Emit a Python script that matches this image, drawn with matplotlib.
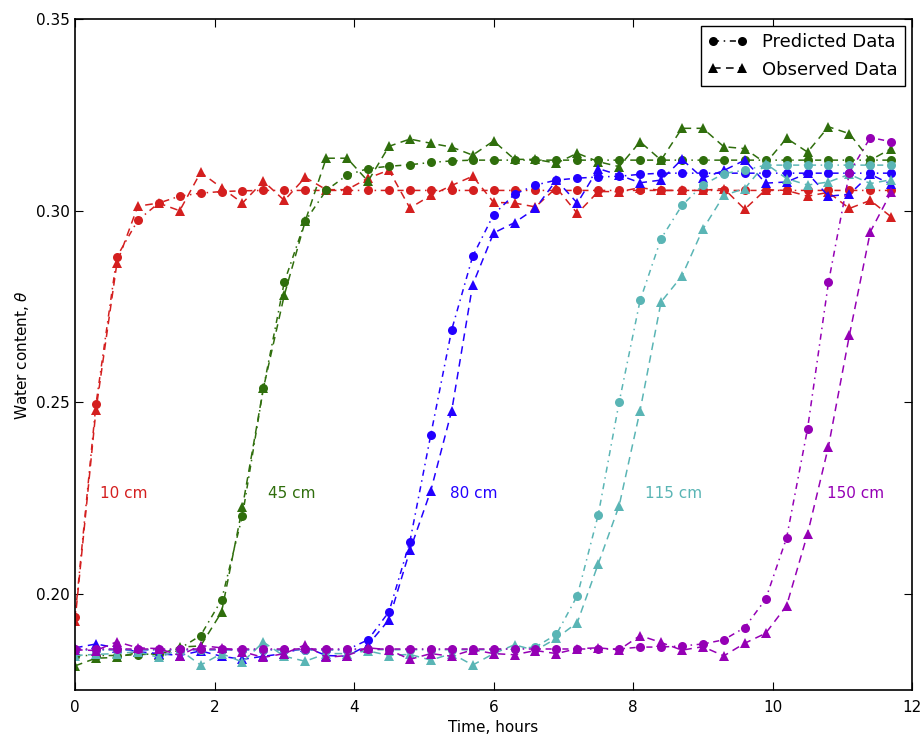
import matplotlib
matplotlib.use("Agg")
import matplotlib.pyplot as plt
from matplotlib.lines import Line2D

time_h = [0.0, 0.3, 0.6, 0.9, 1.2, 1.5, 1.8, 2.1, 2.4, 2.7,
          3.0, 3.3, 3.6, 3.9, 4.2, 4.5, 4.8, 5.1, 5.4, 5.7,
          6.0, 6.3, 6.6, 6.9, 7.2, 7.5, 7.8, 8.1, 8.4, 8.7,
          9.0, 9.3, 9.6, 9.9, 10.2, 10.5, 10.8, 11.1, 11.4, 11.7]

depth_labels = ["10 cm", "45 cm", "80 cm", "115 cm", "150 cm"]
label_x = [0.36, 2.77, 5.38, 8.17, 10.78]
label_y = [0.2262, 0.2262, 0.2262, 0.2262, 0.2262]
colors = ["#d41f1f", "#2f6e0c", "#2200ff", "#5ab5b5", "#9500b5"]

pred_10 = [0.194, 0.2495, 0.288, 0.2975, 0.302, 0.3038, 0.3046, 0.305, 0.3052, 0.3053,
           0.3053, 0.3053, 0.3053, 0.3053, 0.3053, 0.3053, 0.3053, 0.3053, 0.3053, 0.3053,
           0.3053, 0.3053, 0.3053, 0.3053, 0.3053, 0.3053, 0.3053, 0.3053, 0.3053, 0.3053,
           0.3053, 0.3053, 0.3053, 0.3053, 0.3053, 0.3053, 0.3053, 0.3053, 0.3053, 0.3053]
obs_10 = [0.193, 0.248, 0.2863, 0.3012, 0.302, 0.300, 0.310, 0.306, 0.302, 0.3077,
          0.3027, 0.3087, 0.3055, 0.3055, 0.3085, 0.3106, 0.3007, 0.304, 0.3066, 0.309,
          0.3022, 0.302, 0.301, 0.306, 0.2993, 0.305, 0.305, 0.306, 0.3053, 0.3053,
          0.3053, 0.3058, 0.3004, 0.3055, 0.3053, 0.3038, 0.3048, 0.3006, 0.3027, 0.2984]

pred_45 = [0.184, 0.184, 0.184, 0.1842, 0.1845, 0.1858, 0.1892, 0.1985, 0.2205, 0.2537,
           0.2814, 0.2973, 0.3053, 0.3093, 0.311, 0.3116, 0.312, 0.3126, 0.313, 0.3132,
           0.3132, 0.3132, 0.3132, 0.3132, 0.3132, 0.3132, 0.3132, 0.3132, 0.3132, 0.3132,
           0.3132, 0.3132, 0.3132, 0.3132, 0.3132, 0.3132, 0.3132, 0.3132, 0.3132, 0.3132]
obs_45 = [0.1813, 0.1833, 0.1835, 0.1848, 0.1842, 0.1862, 0.1865, 0.1953, 0.2227, 0.2537,
          0.278, 0.2973, 0.3137, 0.3137, 0.3077, 0.3168, 0.3187, 0.3176, 0.3166, 0.3145,
          0.3182, 0.3134, 0.3134, 0.3124, 0.315, 0.3128, 0.3115, 0.318, 0.3132, 0.3215,
          0.3215, 0.3167, 0.3162, 0.3124, 0.3189, 0.3153, 0.3219, 0.3201, 0.3132, 0.3162]

pred_80 = [0.1855, 0.1855, 0.1855, 0.1855, 0.1855, 0.1855, 0.1855, 0.1855, 0.1855, 0.1855,
           0.1855, 0.1855, 0.1855, 0.1855, 0.1881, 0.1954, 0.2137, 0.2416, 0.269, 0.2881,
           0.299, 0.3043, 0.3067, 0.308, 0.3085, 0.3088, 0.309, 0.3095, 0.3098, 0.3098,
           0.3098, 0.3098, 0.3098, 0.3098, 0.3098, 0.3098, 0.3098, 0.3098, 0.3098, 0.3098]
obs_80 = [0.186, 0.187, 0.186, 0.185, 0.1845, 0.184, 0.1852, 0.1838, 0.183, 0.1838,
          0.1845, 0.1862, 0.184, 0.1838, 0.1868, 0.1933, 0.2114, 0.227, 0.2479, 0.2807,
          0.2942, 0.2969, 0.3006, 0.308, 0.302, 0.311, 0.3093, 0.3073, 0.308, 0.3134,
          0.3085, 0.3105, 0.3132, 0.3072, 0.3075, 0.3098, 0.3038, 0.3043, 0.3095, 0.3069]

pred_115 = [0.1855, 0.1855, 0.1855, 0.1855, 0.1855, 0.1855, 0.1855, 0.1855, 0.1855, 0.1855,
            0.1855, 0.1855, 0.1855, 0.1855, 0.1855, 0.1855, 0.1855, 0.1855, 0.1855, 0.1855,
            0.1855, 0.1858, 0.1862, 0.1895, 0.1996, 0.2207, 0.2501, 0.2766, 0.2927, 0.3014,
            0.3067, 0.3097, 0.3106, 0.3119, 0.3119, 0.3119, 0.3119, 0.3119, 0.3119, 0.3119]
obs_115 = [0.184, 0.1843, 0.1845, 0.185, 0.1835, 0.1855, 0.1815, 0.1845, 0.1823, 0.1875,
           0.1838, 0.1825, 0.1845, 0.1845, 0.1852, 0.184, 0.1843, 0.1828, 0.1845, 0.1815,
           0.1845, 0.1868, 0.1853, 0.1885, 0.1926, 0.2079, 0.2231, 0.2479, 0.2762, 0.283,
           0.2952, 0.304, 0.3058, 0.3123, 0.3084, 0.3067, 0.3075, 0.3095, 0.3071, 0.3081]

pred_150 = [0.1857, 0.1857, 0.1857, 0.1857, 0.1857, 0.1857, 0.1857, 0.1857, 0.1857, 0.1857,
            0.1857, 0.1857, 0.1857, 0.1857, 0.1857, 0.1857, 0.1857, 0.1857, 0.1857, 0.1857,
            0.1857, 0.1857, 0.1857, 0.1857, 0.1857, 0.1857, 0.1857, 0.1862, 0.1862, 0.1865,
            0.187, 0.1881, 0.1913, 0.1987, 0.2147, 0.2431, 0.2813, 0.3099, 0.3191, 0.318]
obs_150 = [0.1855, 0.1853, 0.1876, 0.186, 0.1858, 0.184, 0.1866, 0.186, 0.185, 0.1835,
           0.1845, 0.1868, 0.1835, 0.184, 0.186, 0.1855, 0.183, 0.1845, 0.1838, 0.1855,
           0.1845, 0.1842, 0.1853, 0.1845, 0.1858, 0.186, 0.1855, 0.1892, 0.1874, 0.1854,
           0.1863, 0.1839, 0.1872, 0.1898, 0.197, 0.2157, 0.2385, 0.2675, 0.2945, 0.3049]

predicted = [pred_10, pred_45, pred_80, pred_115, pred_150]
observed = [obs_10, obs_45, obs_80, obs_115, obs_150]

plt.rcParams['font.family'] = ['DejaVu Sans']
fig = plt.figure(figsize=(9.24, 7.35), dpi=100)
ax = fig.add_axes([0.0812, 0.0612, 0.906, 0.9129])

pred_dash = (0, (4, 3, 1, 3))
obs_dash = (0, (5, 3.5))
for c, p, o in zip(colors, predicted, observed):
    ax.plot(time_h, p, linestyle=pred_dash, marker='o', color=c, markersize=6.5,
            markeredgewidth=0, linewidth=1.1)
    ax.plot(time_h, o, linestyle=obs_dash, marker='^', color=c, markersize=7,
            markeredgewidth=0, linewidth=1.1)

for lab, lx, ly, c in zip(depth_labels, label_x, label_y, colors):
    ax.text(lx, ly, lab, color=c, fontsize=11, va='center', ha='left')

ax.set_xlim(0, 12)
ax.set_ylim(0.175, 0.35)
ax.set_xticks([0, 2, 4, 6, 8, 10, 12])
ax.set_yticks([0.20, 0.25, 0.30, 0.35])
ax.set_yticklabels(["0.20", "0.25", "0.30", "0.35"])
ax.tick_params(direction='in', top=True, right=True, length=6, labelsize=11)
ax.tick_params(axis='x', pad=7)
for s in ax.spines.values():
    s.set_linewidth(1.2)
ax.set_xlabel("Time, hours", fontsize=11)
ax.set_ylabel(r"Water content, $\theta$", fontsize=11)

handles = [Line2D([0], [0], color='black', linestyle=pred_dash, marker='o', markersize=6.5, markeredgewidth=0, linewidth=1.1),
           Line2D([0], [0], color='black', linestyle=obs_dash, marker='^', markersize=7, markeredgewidth=0, linewidth=1.1)]
leg = ax.legend(handles, ["Predicted Data", "Observed Data"], loc='upper right',
                numpoints=2, fontsize=13, fancybox=False, framealpha=1,
                edgecolor='black', handlelength=2.2, borderaxespad=0.4)
leg.get_frame().set_linewidth(1.0)

fig.savefig("out.png", dpi=100)
